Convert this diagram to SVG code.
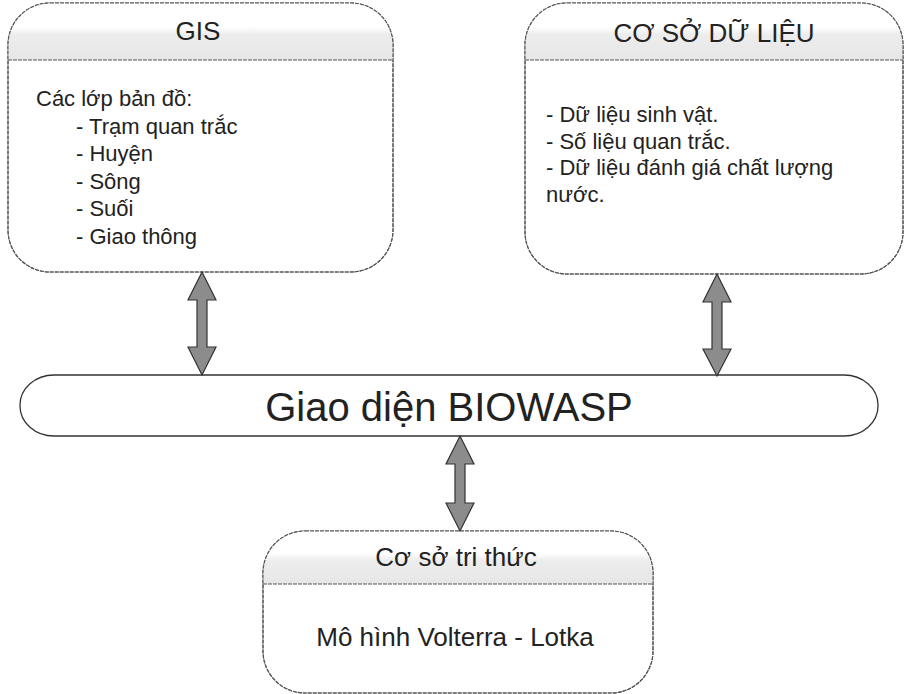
<svg xmlns="http://www.w3.org/2000/svg" width="904" height="694" viewBox="0 0 904 694">
<defs>
<linearGradient id="hdr" x1="0" y1="0" x2="0" y2="1">
<stop offset="0" stop-color="#ffffff"/>
<stop offset="0.42" stop-color="#ffffff"/>
<stop offset="0.55" stop-color="#ededed"/>
<stop offset="1" stop-color="#e6e6e6"/>
</linearGradient>
<clipPath id="cGis"><rect x="8" y="3" width="385" height="269" rx="42" ry="42"/></clipPath>
<clipPath id="cDb"><rect x="525" y="3" width="378" height="271" rx="42" ry="42"/></clipPath>
<clipPath id="cKb"><rect x="263" y="531" width="390" height="162" rx="42" ry="42"/></clipPath>
</defs>
<style>
.box{fill:#ffffff;stroke:#555;stroke-width:1.1;stroke-dasharray:4 1}
.edge{fill:none;stroke:#555;stroke-width:1.1;stroke-dasharray:4 1}
.sep{stroke:#555;stroke-width:1.1;stroke-dasharray:4 1}
.hd{fill:url(#hdr)}
.pill{fill:#ffffff;stroke:#333;stroke-width:1.3}
.t{font-family:"Liberation Sans",Arial,sans-serif;fill:#222}
.arr{fill:#8c8c8c;stroke:#333;stroke-width:1.2;stroke-linejoin:miter}
</style>
<rect width="904" height="694" fill="#ffffff"/>

<g id="gis">
<rect class="box" x="8" y="3" width="385" height="269" rx="42" ry="42"/>
<rect class="hd" x="8" y="3" width="385" height="57" clip-path="url(#cGis)"/>
<line class="sep" x1="8" y1="60" x2="393" y2="60"/>
<rect class="edge" x="8" y="3" width="385" height="269" rx="42" ry="42"/>
<text class="t" x="198" y="40" font-size="26" text-anchor="middle">GIS</text>
<text class="t" font-size="22">
<tspan x="36" y="106">Các lớp bản đồ:</tspan>
<tspan x="76" y="133.5">- Trạm quan trắc</tspan>
<tspan x="76" y="161">- Huyện</tspan>
<tspan x="76" y="188.5">- Sông</tspan>
<tspan x="76" y="216">- Suối</tspan>
<tspan x="76" y="243.5">- Giao thông</tspan>
</text>
</g>

<g id="database">
<rect class="box" x="525" y="3" width="378" height="271" rx="42" ry="42"/>
<rect class="hd" x="525" y="3" width="378" height="57" clip-path="url(#cDb)"/>
<line class="sep" x1="525" y1="60" x2="903" y2="60"/>
<rect class="edge" x="525" y="3" width="378" height="271" rx="42" ry="42"/>
<text class="t" x="714" y="42" font-size="26" text-anchor="middle">CƠ SỞ DỮ LIỆU</text>
<text class="t" font-size="22">
<tspan x="546" y="122">- Dữ liệu sinh vật.</tspan>
<tspan x="546" y="148.5">- Số liệu quan trắc.</tspan>
<tspan x="546" y="175">- Dữ liệu đánh giá chất lượng</tspan>
<tspan x="546" y="201.5">nước.</tspan>
</text>
</g>

<g id="biowasp">
<rect class="pill" x="20" y="375" width="858" height="61" rx="34" ry="30"/>
<text class="t" x="449" y="421" font-size="40" text-anchor="middle">Giao diện BIOWASP</text>
</g>

<g id="knowledge">
<rect class="box" x="263" y="531" width="390" height="162" rx="42" ry="42"/>
<rect class="hd" x="263" y="531" width="390" height="53" clip-path="url(#cKb)"/>
<line class="sep" x1="263" y1="584" x2="653" y2="584"/>
<rect class="edge" x="263" y="531" width="390" height="162" rx="42" ry="42"/>
<text class="t" x="456" y="566" font-size="26" text-anchor="middle">Cơ sở tri thức</text>
<text class="t" x="455" y="646" font-size="26" text-anchor="middle">Mô hình Volterra - Lotka</text>
</g>

<g id="connectors">
<polygon class="arr" points="202,272 216,300 207,300 207,347 216,347 202,375 188,347 197,347 197,300 188,300"/>
<polygon class="arr" points="717,274 731,302 722,302 722,349 731,349 717,376 703,349 712,349 712,302 703,302"/>
<polygon class="arr" points="460,436 474,464 465,464 465,503 474,503 460,531 446,503 455,503 455,464 446,464"/>
</g>
</svg>
